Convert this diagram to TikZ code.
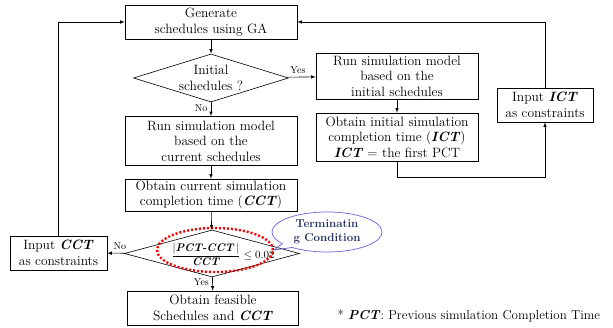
\documentclass[tikz,border=0pt]{standalone}
\usetikzlibrary{shapes,arrows}
\usetikzlibrary{positioning}

\definecolor{calloutblue}{RGB}{105,95,225}
\definecolor{calloutnavy}{RGB}{35,45,95}
\newcommand{\bi}[1]{\textbf{\textit{#1}}}

\tikzset{
    block/.style={draw, rectangle, align=center, inner sep=1pt,
        font=\fontsize{13.5}{15.5}\selectfont},
    decision/.style={draw, diamond, inner sep=0pt},
    yn/.style={font=\fontsize{10}{12}\selectfont},
    line/.style={draw, -latex, line width=0.6pt}
}

\begin{document}
\begin{tikzpicture}[x=1pt, y=-1pt, line width=0.6pt]
    \useasboundingbox (0,0) rectangle (613,328);

    % main column
    \node[block, minimum width=172, minimum height=34] (gen) at (211,22) {Generate\\schedules using GA};
    \node[decision, minimum width=155, minimum height=48,
          label={[align=center, font=\fontsize{13.5}{15.5}\selectfont]center:Initial\\schedules ?}] (init) at (211,78) {};
    \node[block, minimum width=172, minimum height=49] (runcur) at (211,141) {Run simulation model\\based on the\\current schedules};
    \node[block, minimum width=172, minimum height=32] (obtcur) at (211,195) {Obtain current simulation\\completion time (\bi{CCT})};
    \node[decision, minimum width=175, minimum height=47,
          label={[font=\fontsize{11}{13}\selectfont, xshift=11pt, yshift=-1pt]center:$\displaystyle\frac{|\bi{PCT-CCT}\,|}{\bi{CCT}}\le 0.02$}] (term) at (212,253.5) {};
    \node[block, minimum width=171, minimum height=34] (feas) at (213,308) {Obtain feasible\\Schedules and \bi{CCT}};
    \node[block, minimum width=97, minimum height=34] (incct) at (58.5,253) {Input \bi{CCT}\\as constraints};

    % right branch
    \node[block, minimum width=162, minimum height=46] (runinit) at (397,76) {Run simulation model\\based on the\\initial schedules};
    \node[block, minimum width=162, minimum height=48] (obtinit) at (397,137) {Obtain initial simulation\\completion time (\bi{ICT})\\\bi{ICT} = the first PCT};
    \node[block, minimum width=96, minimum height=34] (inict) at (545,105) {Input \bi{ICT}\\as constraints};

    % termination condition marks
    \node[draw=red, ellipse, line width=2.4pt, dash pattern=on 2pt off 2pt,
          minimum width=116, minimum height=44] (cond) at (215,250) {};
    \node[ellipse callout, draw=calloutblue, line width=0.7pt, align=center,
          minimum width=110, minimum height=40, inner sep=0pt,
          callout absolute pointer={(cond.east)},
          font=\fontsize{11.5}{14}\selectfont\bfseries, text=calloutnavy] (tag) at (327,232) {Terminatin\\g Condition};

    \node[anchor=west, font=\fontsize{13}{15}\selectfont] (note) at (334,316) {* \bi{PCT}: Previous simulation Completion Time};

    % connectors
    \path[line] (gen) -- (init);
    \path[line] (init) -- node[yn, left, pos=0.45] {No} (runcur);
    \path[line] (runcur) -- (obtcur);
    \path[line] (obtcur) -- (term);
    \path[line] (term) -- node[yn, left, pos=0.4] {Yes} (feas);
    \path[line] (term) -- node[yn, above, pos=0.3] {No} (incct);
    \path[line] (incct) |- (gen);
    \path[line] (init) -- node[yn, above, pos=0.4] {Yes} (runinit);
    \path[line] (runinit) -- (obtinit);
    \path[line] (obtinit.south) -- ++(0,16) -| (inict.south);
    \path[line] (inict) |- (gen);
\end{tikzpicture}
\end{document}
